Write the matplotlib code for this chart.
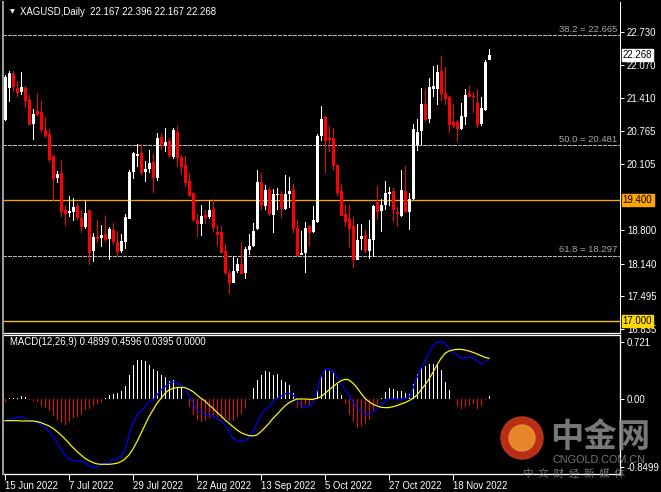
import matplotlib
matplotlib.use('Agg')
import matplotlib.pyplot as plt
from matplotlib.patches import Circle
import pandas as pd

# ---------------- data ----------------
symbol_header = "XAGUSD,Daily  22.167 22.396 22.167 22.268"
macd_header = "MACD(12,26,9) 0.4899 0.4596 0.0395 0.0000"

opens = [20.98, 21.61, 21.90, 21.62, 21.54, 21.62, 21.38, 20.90, 21.16, 21.15,
         20.78, 20.70, 20.27, 19.83, 19.93, 19.20, 19.15, 19.17, 19.28, 19.05,
         18.86, 19.20, 18.39, 18.67, 18.64, 18.72, 18.62, 18.80, 18.57, 18.39,
         18.57, 19.03, 19.96, 20.27, 20.32, 19.96, 20.02, 20.15, 19.84, 20.64,
         20.47, 20.57, 20.24, 20.74, 20.24, 20.09, 19.77, 19.53, 19.00, 18.93,
         19.10, 19.07, 19.22, 18.77, 18.77, 18.39, 17.96, 17.75, 18.00, 18.13,
         17.96, 18.41, 18.49, 18.82, 19.75, 19.28, 19.60, 19.10, 19.50, 19.52,
         19.21, 19.52, 19.60, 18.85, 18.31, 18.35, 18.88, 18.76, 18.97, 20.67,
         21.05, 20.63, 20.63, 20.09, 19.58, 19.13, 19.02, 18.89, 18.20, 18.62,
         18.70, 18.39, 18.61, 19.36, 19.18, 19.30, 19.52, 19.57, 19.17, 19.08,
         19.57, 19.17, 19.41, 20.49, 20.77, 21.30, 21.00, 21.59, 21.60, 21.95,
         21.52, 21.44, 20.95, 20.95, 20.80, 21.05, 21.52, 21.46, 21.32, 20.90,
         21.18, 22.167]
highs = [21.88, 21.95, 21.95, 21.74, 21.93, 21.65, 21.48, 21.20, 21.52, 21.35,
         21.05, 20.81, 20.29, 19.97, 20.19, 19.27, 19.47, 19.43, 19.34, 19.20,
         19.38, 19.20, 18.75, 19.00, 18.90, 19.08, 18.87, 18.95, 18.78, 18.72,
         19.12, 19.99, 20.34, 20.51, 20.51, 20.18, 20.39, 20.31, 20.72, 20.72,
         20.82, 20.62, 20.82, 20.86, 20.27, 20.27, 19.94, 19.54, 19.13, 19.29,
         19.20, 19.38, 19.42, 18.90, 18.88, 18.53, 18.01, 18.28, 18.24, 18.57,
         18.47, 18.72, 18.95, 19.99, 19.93, 19.69, 19.66, 19.62, 19.63, 19.58,
         19.90, 19.86, 19.71, 19.01, 18.79, 18.97, 18.90, 19.28, 20.70, 21.25,
         21.06, 20.86, 20.82, 20.09, 19.71, 19.30, 19.30, 19.07, 18.92, 18.92,
         18.80, 19.00, 19.30, 19.68, 19.41, 19.77, 19.66, 19.63, 19.25, 20.00,
         20.07, 19.53, 20.90, 21.00, 21.61, 21.59, 21.82, 22.05, 22.07, 22.25,
         22.04, 21.46, 21.30, 20.99, 21.31, 21.59, 21.65, 21.54, 21.59, 21.43,
         22.18, 22.396]
lows = [20.96, 21.33, 21.54, 21.44, 21.48, 21.21, 20.88, 20.59, 21.06, 20.72,
        20.62, 20.16, 19.37, 19.73, 19.07, 18.88, 19.07, 18.98, 19.01, 18.74,
        18.82, 18.11, 18.18, 18.54, 18.47, 18.57, 18.21, 18.51, 18.29, 18.35,
        18.43, 19.02, 19.81, 20.05, 19.89, 19.76, 19.94, 19.53, 19.78, 20.39,
        20.34, 20.22, 20.20, 20.06, 19.89, 19.66, 19.45, 18.97, 18.67, 18.68,
        18.92, 19.02, 18.77, 18.49, 18.34, 17.91, 17.54, 17.75, 17.95, 17.93,
        17.83, 18.31, 18.47, 18.80, 19.20, 19.20, 19.08, 18.75, 19.20, 19.05,
        19.20, 19.23, 18.75, 18.28, 18.31, 17.95, 18.47, 18.74, 18.95, 20.57,
        19.93, 20.34, 19.98, 19.48, 19.08, 18.87, 18.44, 18.06, 18.20, 18.41,
        18.34, 18.22, 18.26, 19.00, 18.77, 19.19, 19.27, 18.97, 18.87, 19.07,
        19.15, 18.80, 19.40, 20.36, 20.49, 20.96, 20.93, 21.43, 21.27, 21.36,
        21.28, 20.73, 20.82, 20.55, 20.78, 20.88, 21.43, 21.13, 20.83, 20.86,
        21.16, 22.167]
closes = [21.84, 21.92, 21.64, 21.52, 21.64, 21.35, 20.88, 21.10, 21.08, 20.78,
          20.67, 20.19, 19.81, 19.91, 19.16, 19.13, 19.18, 19.25, 19.05, 18.87,
          19.15, 18.35, 18.66, 18.62, 18.70, 18.60, 18.82, 18.57, 18.37, 18.59,
          19.07, 19.96, 20.32, 20.31, 19.93, 20.02, 20.14, 19.84, 20.63, 20.48,
          20.54, 20.26, 20.78, 20.22, 20.06, 19.73, 19.48, 19.00, 18.92, 19.08,
          19.05, 19.20, 18.85, 18.70, 18.34, 17.95, 17.75, 17.99, 18.14, 17.93,
          18.42, 18.49, 18.78, 19.75, 19.27, 19.59, 19.13, 19.52, 19.52, 19.21,
          19.52, 19.58, 18.82, 18.29, 18.35, 18.85, 18.75, 19.00, 20.67, 21.00,
          20.57, 20.58, 20.07, 19.53, 19.08, 18.97, 18.82, 18.21, 18.61, 18.69,
          18.39, 18.62, 19.28, 19.17, 19.30, 19.53, 19.56, 19.20, 19.13, 19.60,
          19.17, 19.41, 20.80, 20.75, 21.30, 20.98, 21.64, 21.65, 21.93, 21.50,
          21.39, 20.88, 20.86, 20.80, 21.06, 21.48, 21.44, 21.43, 20.88, 21.21,
          22.14, 22.268]

macd_main = [-0.271, -0.250, -0.238, -0.225, -0.221, -0.238, -0.267, -0.279, -0.288, -0.313,
             -0.354, -0.404, -0.467, -0.538, -0.621, -0.696, -0.746, -0.763, -0.771, -0.771,
             -0.792, -0.833, -0.850, -0.850, -0.821, -0.800, -0.788, -0.754, -0.746, -0.717,
             -0.633, -0.446, -0.300, -0.196, -0.146, -0.092, -0.029, -0.008, 0.054, 0.117,
             0.158, 0.200, 0.221, 0.200, 0.179, 0.137, 0.054, -0.050, -0.133, -0.163,
             -0.188, -0.204, -0.208, -0.238, -0.271, -0.321, -0.404, -0.488, -0.521, -0.529,
             -0.521, -0.475, -0.404, -0.300, -0.196, -0.133, -0.092, -0.029, 0.012, 0.042,
             0.067, 0.075, 0.054, -0.008, -0.083, -0.100, -0.083, -0.050, 0.104, 0.283,
             0.367, 0.387, 0.346, 0.283, 0.200, 0.117, 0.054, -0.029, -0.113, -0.154,
             -0.183, -0.188, -0.154, -0.121, -0.071, -0.029, 0.004, 0.004, 0.004, 0.004,
             0.012, 0.021, 0.137, 0.271, 0.387, 0.479, 0.575, 0.671, 0.721, 0.721,
             0.700, 0.637, 0.587, 0.554, 0.512, 0.521, 0.521, 0.521, 0.483, 0.437,
             0.471, 0.512]
macd_signal = [-0.267, -0.267, -0.267, -0.267, -0.271, -0.271, -0.271, -0.271, -0.279, -0.292,
               -0.313, -0.333, -0.363, -0.404, -0.446, -0.496, -0.550, -0.604, -0.654, -0.696,
               -0.738, -0.767, -0.792, -0.808, -0.813, -0.813, -0.813, -0.808, -0.800, -0.779,
               -0.746, -0.696, -0.621, -0.529, -0.425, -0.321, -0.217, -0.133, -0.050, 0.012,
               0.075, 0.117, 0.137, 0.146, 0.150, 0.146, 0.125, 0.096, 0.054, 0.012,
               -0.021, -0.071, -0.113, -0.163, -0.208, -0.258, -0.300, -0.342, -0.383, -0.417,
               -0.438, -0.454, -0.458, -0.446, -0.404, -0.354, -0.300, -0.238, -0.188, -0.133,
               -0.083, -0.042, -0.017, 0.004, 0.004, 0.004, 0.000, 0.000, 0.012, 0.033,
               0.075, 0.117, 0.158, 0.200, 0.233, 0.250, 0.242, 0.200, 0.146, 0.075,
               0.012, -0.029, -0.063, -0.083, -0.100, -0.104, -0.104, -0.092, -0.079, -0.058,
               -0.042, -0.017, 0.012, 0.054, 0.117, 0.179, 0.254, 0.337, 0.429, 0.512,
               0.575, 0.604, 0.617, 0.625, 0.625, 0.617, 0.604, 0.587, 0.567, 0.546,
               0.525, 0.512]
macd_hist = [-0.029, 0.012, 0.012, 0.021, 0.042, 0.025, -0.008, -0.017, -0.029, -0.079,
             -0.104, -0.146, -0.208, -0.258, -0.300, -0.321, -0.288, -0.238, -0.217, -0.196,
             -0.133, -0.121, -0.083, -0.063, -0.029, 0.012, 0.054, 0.067, 0.075, 0.104,
             0.171, 0.304, 0.429, 0.492, 0.492, 0.479, 0.429, 0.375, 0.354, 0.304,
             0.275, 0.233, 0.242, 0.158, 0.137, 0.000, -0.092, -0.196, -0.258, -0.279,
             -0.271, -0.238, -0.196, -0.217, -0.229, -0.238, -0.271, -0.267, -0.217, -0.183,
             -0.113, -0.010, 0.137, 0.242, 0.304, 0.354, 0.337, 0.304, 0.312, 0.242,
             0.212, 0.179, 0.075, -0.104, -0.104, -0.071, -0.071, -0.029, 0.104, 0.292,
             0.375, 0.354, 0.337, 0.187, 0.054, -0.063, -0.196, -0.279, -0.354, -0.329,
             -0.313, -0.258, -0.163, -0.071, 0.012, 0.096, 0.146, 0.129, 0.104, 0.104,
             0.075, 0.062, 0.187, 0.312, 0.387, 0.421, 0.437, 0.442, 0.429, 0.367,
             0.221, 0.117, 0.000, -0.083, -0.125, -0.092, -0.079, -0.063, -0.121, -0.083,
             -0.008, 0.0395]

start_date = "2022-06-15"
date_labels = ["15 Jun 2022", "7 Jul 2022", "29 Jul 2022", "22 Aug 2022",
               "13 Sep 2022", "5 Oct 2022", "27 Oct 2022", "18 Nov 2022"]

price_ticks = [22.730, 22.070, 21.410, 20.765, 20.105, 18.800, 18.140, 17.495, 16.835]
macd_ticks = [0.721, 0.0, -0.8499]
macd_tick_labels = ["0.721", "0.00", "-0.8499"]

fib_levels = [22.665, 20.481, 18.297]
fib_names = ["38.2", "50.0", "61.8"]
orange_level = 19.400
yellow_level = 17.000
last_price = 22.268

# ---------------- layout helpers ----------------
W, H = 661, 492
fig = plt.figure(figsize=(W / 100, H / 100), dpi=100, facecolor='black')
FONT = 'Liberation Sans'
plt.rcParams['font.family'] = [FONT, 'DejaVu Sans']

def rect(x0, y0, x1, y1):
    return [x0 / W, 1 - y1 / H, (x1 - x0) / W, (y1 - y0) / H]

PX = 0.72  # one pixel in points
X_LEFT, X_RIGHT = 3, 620
XLIM = (-0.5, 153.75)   # 4 px per bar
ONE_PX = 0.25           # one pixel in bar units

dates = pd.bdate_range(start_date, periods=len(closes))
xs = list(range(len(closes)))
date_strs = [f"{d.day} {d.strftime('%b %Y')}" for d in dates]
date_pos = [date_strs.index(lbl) for lbl in date_labels]

# ---------------- main price panel ----------------
ax = fig.add_axes(rect(X_LEFT, 2, X_RIGHT, 332.7))
ax.set_facecolor('black')
ax.set_xlim(*XLIM)
ax.set_ylim(16.770, 23.319)

up_col, dn_col = '#FFFFFF', '#FF0000'
cols = [up_col if c >= o else dn_col for o, c in zip(opens, closes)]
wick_h = [h - l for h, l in zip(highs, lows)]
ax.bar(xs, wick_h, bottom=lows, width=ONE_PX, color=cols, linewidth=0, zorder=3,
       antialiased=False)
bottoms = [min(o, c) for o, c in zip(opens, closes)]
heights = [max(abs(c - o), 0.02) for o, c in zip(opens, closes)]
ax.bar(xs, heights, bottom=bottoms, width=0.75, color=cols, linewidth=0, zorder=4,
       antialiased=False)

for lvl, name in zip(fib_levels, fib_names):
    ax.axhline(lvl, color='#B4B4B4', linewidth=PX, linestyle=(0, (3, 2)), zorder=2,
               antialiased=False)
    ax.text(XLIM[1] - 0.6, lvl + 0.03, f"{name} = {lvl:.3f}", color='#A8A8A8',
            fontsize=6.8, ha='right', va='bottom', zorder=5)
ax.axhline(orange_level, color='#FFA500', linewidth=PX * 1.3, zorder=2)
ax.axhline(yellow_level, color='#FFCC00', linewidth=PX * 1.3, zorder=2)

ax.set_xticks([])
ax.yaxis.tick_right()
ax.set_yticks(price_ticks)
ax.set_yticklabels([f"{t:.3f}" for t in price_ticks])
ax.tick_params(axis='y', colors='white', labelcolor='white', length=3, width=PX,
               labelsize=6.9, pad=2)
for s in ['left', 'top', 'bottom']:
    ax.spines[s].set_visible(False)
ax.spines['right'].set_color('white')
ax.spines['right'].set_linewidth(PX)
ax.axhline(ax.get_ylim()[0], color='white', linewidth=PX * 1.3, clip_on=False)

box_kw = dict(fontsize=6.9, ha='left', va='center', transform=ax.get_yaxis_transform(),
              clip_on=False, zorder=10)
ax.text(1.0045, last_price, f"{last_price:.3f}", color='black',
        bbox=dict(boxstyle='square,pad=0.12', fc='white', ec='white'), **box_kw)
ax.text(1.0045, orange_level, f"{orange_level:.3f}", color='black',
        bbox=dict(boxstyle='square,pad=0.12', fc='#FFA500', ec='#FFA500'), **box_kw)
ax.text(1.0045, yellow_level, f"{yellow_level:.3f}", color='black',
        bbox=dict(boxstyle='square,pad=0.12', fc='#FFD800', ec='#FFD800'), **box_kw)

fig.text(10 / W, 1 - 12 / H, "\u25BC", color='white', fontsize=4.5, ha='left', va='center',
         family='DejaVu Sans')
fig.text(20 / W, 1 - 12 / H, symbol_header, color='white', fontsize=6.9, ha='left', va='center')

# ---------------- MACD panel ----------------
mx = fig.add_axes(rect(X_LEFT, 335.3, X_RIGHT, 474.3))
mx.set_facecolor('black')
mx.set_xlim(*XLIM)
mx.set_ylim(-0.938, 0.8005)
hcols = ['#FFFFFF' if v >= 0 else '#FF0000' for v in macd_hist]
mx.bar(xs, macd_hist, bottom=0, width=ONE_PX, color=hcols, linewidth=0, zorder=2,
       antialiased=False)
mx.plot(xs, macd_main, color='#0000FF', linewidth=PX * 1.2, zorder=3)
mx.plot(xs, macd_signal, color='#FFFF00', linewidth=PX * 1.2, zorder=4)

mx.yaxis.tick_right()
mx.set_yticks(macd_ticks)
mx.set_yticklabels(macd_tick_labels)
mx.tick_params(axis='y', colors='white', labelcolor='white', length=3, width=PX,
               labelsize=6.9, pad=2)
mx.set_xticks(date_pos)
mx.set_xticklabels(date_labels, ha='left')
mx.tick_params(axis='x', colors='white', labelcolor='white', length=4, width=PX,
               labelsize=6.9, pad=1)
mx.spines['left'].set_visible(False)
for s in ['right', 'top', 'bottom']:
    mx.spines[s].set_color('white')
    mx.spines[s].set_linewidth(PX * 1.3)
fig.text(10 / W, 1 - 342 / H, macd_header, color='white', fontsize=6.9, ha='left', va='center')

# left window frame
fig.add_artist(plt.Line2D([2.5 / W, 2.5 / W], [1 - 2 / H, 1 - 474 / H], color='#9A9A9A',
                          linewidth=PX * 2))

# ---------------- watermark ----------------
wm = fig.add_axes([0, 0, 1, 1], facecolor='none')
wm.set_xlim(0, W)
wm.set_ylim(H, 0)
wm.axis('off')
wm.add_patch(Circle((522, 438), 21, color='#D8381A', alpha=0.85))
wm.add_patch(Circle((522, 438), 13, color='#F0952E', alpha=0.85))
wm.text(600, 438, "中金网", family=['Noto Sans CJK SC'], fontsize=24, fontweight='bold',
        color='#8E8E8E', alpha=0.85, ha='center', va='center')
wm.text(599, 460, "CNGOLD.COM.CN", fontsize=7.8, color='#8A8A8A', alpha=0.85,
        ha='center', va='center')
wm.text(574, 474, "中  文  财  经  新  媒  体", family=['Noto Sans CJK SC'], fontsize=7.6,
        color='#8A8A8A', alpha=0.85, ha='center', va='center')

fig.savefig('out.png', dpi=100, facecolor='black')
